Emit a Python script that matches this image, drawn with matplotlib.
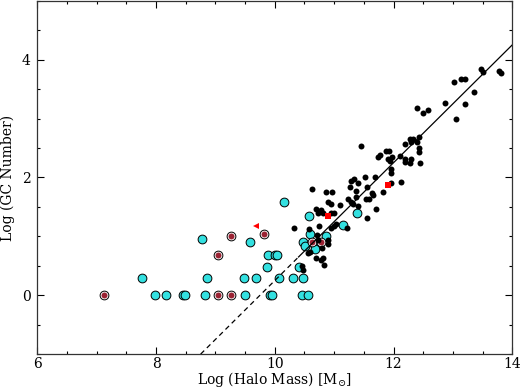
import numpy as np
import matplotlib.pyplot as plt
from matplotlib.ticker import MultipleLocator

plt.rcParams['font.family'] = ['DejaVu Serif']
plt.rcParams['mathtext.fontset'] = 'dejavuserif'

# black dots (galaxies)
blk_x = [10.33, 10.63, 10.45, 10.47, 10.58, 10.56, 10.69, 10.73, 10.75, 10.77,
         10.81, 10.69, 10.77, 10.82, 10.83, 10.87, 10.89, 10.94, 10.97, 10.94,
         10.89, 10.90, 10.73, 10.95, 10.99, 11.03, 11.10, 11.22, 11.24, 11.28,
         11.31, 11.29, 11.33, 11.37, 11.37, 11.41, 11.46, 11.52, 11.54, 11.58,
         11.56, 11.56, 11.63, 11.66, 11.69, 11.70, 11.74, 11.78, 11.83, 11.87,
         11.93, 11.90, 11.94, 11.95, 11.96, 11.97, 11.95, 12.11, 12.13, 12.19,
         12.19, 12.20, 12.28, 12.33, 12.29, 12.28, 12.39, 12.43, 12.43, 12.43,
         12.45, 12.49, 12.58, 12.86, 13.02, 13.05, 13.14, 13.20, 13.21, 13.36,
         13.48, 13.50, 13.77, 13.81, 12.39, 12.29, 10.59, 10.71, 10.79, 11.00,
         11.40, 11.27]
blk_y = [1.15, 1.80, 0.49, 0.42, 1.12, 0.72, 1.46, 1.39, 1.18, 1.45,
         1.39, 0.63, 0.59, 0.63, 0.51, 1.76, 1.59, 1.55, 1.76, 1.39,
         0.94, 0.87, 0.94, 1.15, 1.18, 1.21, 1.53, 1.14, 1.64, 1.59,
         1.55, 1.94, 1.98, 1.77, 1.66, 1.52, 2.54, 2.00, 1.63, 1.63,
         1.83, 1.31, 1.74, 1.70, 2.01, 1.46, 2.35, 2.38, 1.75, 2.45,
         2.45, 2.32, 2.28, 2.14, 2.08, 2.35, 1.91, 2.36, 1.92, 2.57,
         2.32, 2.26, 2.65, 2.66, 2.32, 2.25, 3.18, 2.50, 2.43, 2.69,
         2.25, 3.10, 3.14, 3.27, 3.62, 2.99, 3.68, 3.68, 3.24, 3.45,
         3.85, 3.79, 3.81, 3.77, 2.60, 2.60, 0.74, 1.03, 0.80, 1.39,
         1.90, 1.84]

# cyan circles
cyan_x = [7.77, 7.98, 8.16, 8.45, 8.49, 8.78, 8.83, 8.86, 9.48, 9.49,
          9.58, 9.68, 9.87, 9.89, 9.92, 9.95, 10.00, 10.03, 10.07, 10.16,
          10.31, 10.41, 10.45, 10.47, 10.48, 10.51, 10.56, 10.58, 10.59, 10.67,
          10.68, 10.86, 11.15, 11.38]
cyan_y = [0.30, 0.0, 0.0, 0.0, 0.0, 0.95, 0.0, 0.30, 0.30, 0.0,
          0.90, 0.30, 0.48, 0.69, 0.0, 0.0, 0.69, 0.69, 0.30, 1.58,
          0.30, 0.48, 0.0, 0.30, 0.90, 0.84, 0.0, 1.35, 1.04, 0.83,
          0.78, 1.00, 1.20, 1.40]

# dark red circles
brn_x = [7.12, 9.05, 9.05, 9.27, 9.27, 9.82, 10.62, 10.77]
brn_y = [0.0, 0.69, 0.0, 1.00, 0.0, 1.04, 0.91, 0.90]

# red symbols
tri_x = [9.69]
tri_y = [1.18]
sq_x = [10.90, 11.90]
sq_y = [1.35, 1.87]

# fitted relation
slope = 1.0
icpt = -9.75
x_break = 10.4

fig = plt.figure(figsize=(5.2, 3.9), dpi=100)
ax = fig.add_axes([0.072, 0.092, 0.913, 0.906])

ax.plot(cyan_x, cyan_y, 'o', ms=6.3, mfc='#33e0e0', mec='black', mew=0.7, zorder=2)
ax.plot(brn_x, brn_y, 'o', ms=6.3, mfc='white', mec='black', mew=0.7, zorder=2)
ax.plot(brn_x, brn_y, 'o', ms=4.3, mfc='#9a2233', mec='none', zorder=2)
ax.plot(blk_x, blk_y, 'o', ms=4.3, mfc='black', mec='black', mew=0, zorder=3)
ax.plot(tri_x, tri_y, '<', ms=4, color='red', mew=0, zorder=4)
ax.plot(sq_x, sq_y, 's', ms=3.8, color='red', mew=0, zorder=4)

xd = np.array([(-1 - icpt) / slope, x_break])
xs = np.array([x_break, 14])
ax.plot(xd, slope * xd + icpt, 'k--', lw=0.9, dashes=(4, 3), zorder=5)
ax.plot(xs, slope * xs + icpt, 'k-', lw=0.9, zorder=5)

ax.set_xlim(6, 14)
ax.set_ylim(-1, 5)
ax.xaxis.set_major_locator(MultipleLocator(2))
ax.xaxis.set_minor_locator(MultipleLocator(0.5))
ax.yaxis.set_major_locator(MultipleLocator(2))
ax.yaxis.set_minor_locator(MultipleLocator(0.5))
ax.tick_params(which='both', direction='in', top=True, right=True, labelsize=10)
ax.tick_params(which='major', length=5, width=0.8)
ax.tick_params(axis='x', which='major', pad=2)
ax.tick_params(axis='y', which='major', pad=5)
ax.tick_params(which='minor', length=2.5, width=0.8)
for s in ax.spines.values():
    s.set_linewidth(0.9)
    s.set_color('#333333')

ax.set_xlabel(r'Log (Halo Mass) [M$_{\odot}$]', fontsize=10, labelpad=-1)
ax.set_ylabel('Log (GC Number)', fontsize=10, labelpad=5)

fig.savefig('out.png', dpi=100)
